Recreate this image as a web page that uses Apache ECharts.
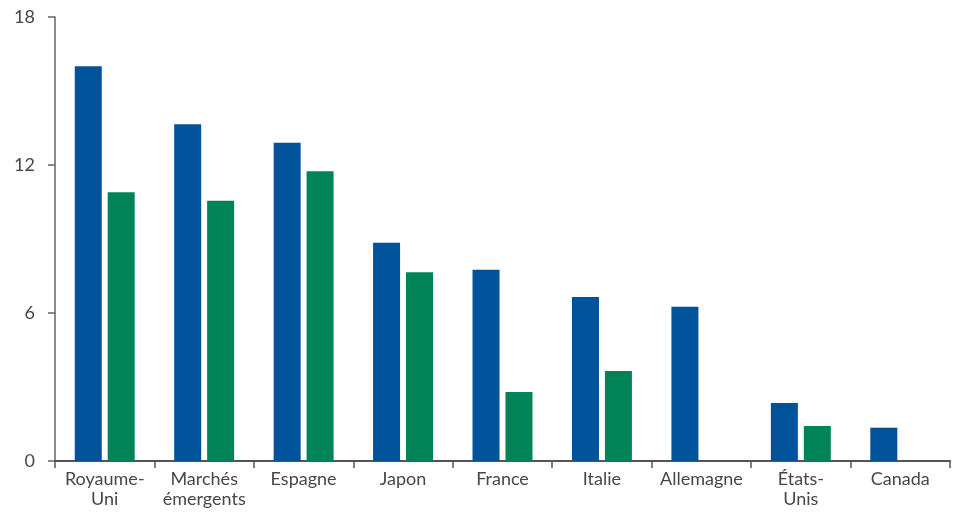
<!DOCTYPE html>
<html>
<head>
<meta charset="utf-8">
<script src="https://cdn.jsdelivr.net/npm/echarts@6/dist/echarts.min.js"></script>
<style>
  html, body { margin: 0; padding: 0; background: #fff; }
  #chart { width: 961px; height: 512px; }
</style>
</head>
<body>
<div id="chart"></div>
<script>
// Categories and the two series of bar values
const categories = ['Royaume-\nUni', 'Marchés\némergents', 'Espagne', 'Japon', 'France', 'Italie', 'Allemagne', 'États-\nUnis', 'Canada'];
const seriesBlue = [16.0, 13.65, 12.9, 8.85, 7.75, 6.65, 6.25, 2.35, 1.35];
const seriesGreen = [10.9, 10.55, 11.75, 7.65, 2.8, 3.65, null, 1.42, null];
const yTicks = [0, 6, 12, 18];

const chart = echarts.init(document.getElementById('chart'));
const textColor = '#474747';
const fontFamily = 'Lato, "Noto Sans", sans-serif';

chart.setOption({
  animation: false,
  grid: { left: 55, right: 11, top: 17, bottom: 51, containLabel: false },
  xAxis: {
    type: 'category',
    data: categories,
    axisLine: { lineStyle: { color: '#555', width: 2 } },
    axisTick: { show: true, length: 7, lineStyle: { color: '#555', width: 1.5 } },
    axisLabel: { color: textColor, fontSize: 18, fontFamily: fontFamily, margin: 8, lineHeight: 20, interval: 0 }
  },
  yAxis: {
    type: 'value',
    min: yTicks[0],
    max: yTicks[yTicks.length - 1],
    interval: 6,
    splitLine: { show: false },
    axisLine: { show: true, lineStyle: { color: '#666', width: 1.5 } },
    axisTick: { show: true, length: 7, lineStyle: { color: '#666', width: 1.5 } },
    axisLabel: { color: textColor, fontSize: 18, fontFamily: fontFamily, margin: 20 }
  },
  series: [
    {
      type: 'bar',
      data: seriesBlue,
      barWidth: 27,
      barGap: '22%',
      itemStyle: { color: '#00529B' }
    },
    {
      type: 'bar',
      data: seriesGreen,
      barWidth: 27,
      itemStyle: { color: '#008457' }
    }
  ]
});
</script>
</body>
</html>
